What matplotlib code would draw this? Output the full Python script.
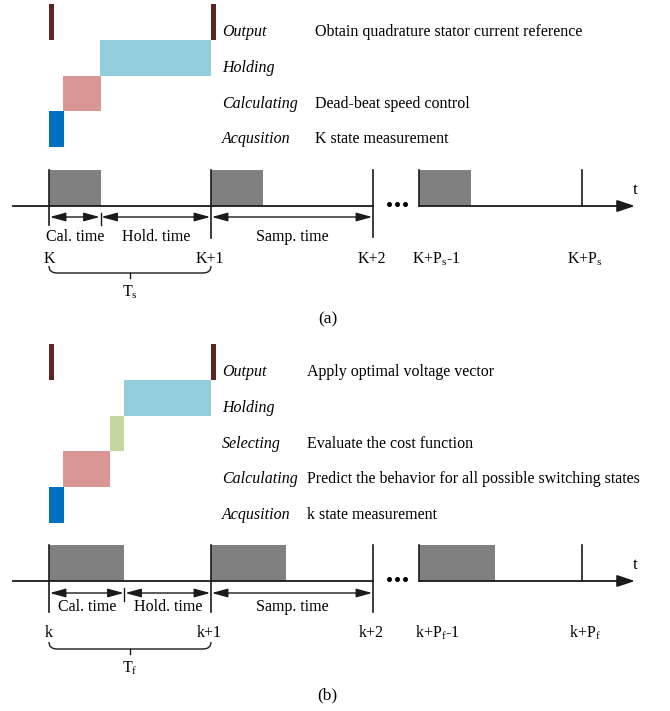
import numpy as np
import matplotlib.pyplot as plt
from matplotlib.path import Path
from matplotlib.patches import PathPatch

plt.rcParams['font.family'] = ['Liberation Serif', 'DejaVu Serif']
plt.rcParams['mathtext.fontset'] = 'custom'
plt.rcParams['mathtext.rm'] = 'Liberation Serif'
plt.rcParams['mathtext.it'] = 'Liberation Serif:italic'

# stage spans, in sampling periods (0 = sample k, 1 = sample k+1)
stages_a = ['Output', 'Holding', 'Calculating', 'Acqusition']
desc_a = ['Obtain quadrature stator current reference', '',
          'Dead-beat speed control', 'K state measurement']
spans_a = [[(0, 0.031), (1.0, 0.031)],
           [(0.315, 0.685)],
           [(0.086, 0.234)],
           [(0, 0.093)]]

stages_b = ['Output', 'Holding', 'Selecting', 'Calculating', 'Acqusition']
desc_b = ['Apply optimal voltage vector', '', 'Evaluate the cost function',
          'Predict the behavior for all possible switching states',
          'k state measurement']
spans_b = [[(0, 0.031), (1.0, 0.031)],
           [(0.463, 0.537)],
           [(0.377, 0.086)],
           [(0.086, 0.291)],
           [(0, 0.093)]]

stage_colors = {'Output': '#5f2522', 'Holding': '#92cddc', 'Selecting': '#c3d69b',
                'Calculating': '#d99694', 'Acqusition': '#0070c0'}

# timeline: sample instants (the axis is broken between k+2 and k+P-1)
slots = [0, 1, 2, 2.284, 3.29]
ticks_a = ['K', 'K+1', 'K+2', 'K+P$_\\mathrm{s}$-1', 'K+P$_\\mathrm{s}$']
ticks_b = ['k', 'k+1', 'k+2', 'k+P$_\\mathrm{f}$-1', 'k+P$_\\mathrm{f}$']
busy_slots = [0, 1, 2.284]
cal_a = 0.318
cal_b = 0.466

fig = plt.figure(figsize=(6.70, 7.11), dpi=100)
ax = fig.add_axes([0, 0, 1, 1])
ax.set_xlim(-49 / 162, 621 / 162)
ax.set_ylim(711, 0)
ax.axis('off')

FS = 11.5


def stage_block(stages, desc, spans, top, desc_x):
    h = 35.8
    for i, (name, d, sp) in enumerate(zip(stages, desc, spans)):
        y0 = top + i * h
        ax.broken_barh(sp, (y0, h), facecolors=stage_colors[name], lw=0)
        ax.text(1.068, y0 + h / 2 + 14, name, style='italic', fontsize=FS,
                ha='left', va='baseline')
        if d:
            ax.text(desc_x, y0 + h / 2 + 14, d, fontsize=FS, ha='left', va='baseline')


def timeline(y, cal, ticks, lab, per_lab, long_ticks, y_arrow, y_text, y_lab, y_brace):
    lc = '#1a1a1a'
    # axis line, broken
    ax.plot([-0.222, slots[2]], [y, y], color=lc, lw=1.3)
    ax.annotate('', xy=(3.617, y), xytext=(slots[3], y),
                arrowprops=dict(arrowstyle='-|>,head_length=0.9,head_width=0.3',
                                color=lc, lw=1.3, shrinkA=0, shrinkB=0,
                                mutation_scale=12))
    ax.text(3.617, y - 16, 't', fontsize=12.5, ha='center', va='center')
    ax.plot([2.1, 2.148, 2.196], [y - 2] * 3, 'o', color='black', ms=2.6)
    # busy boxes
    ax.broken_barh([(s, cal) for s in busy_slots], (y - 36, 36),
                   facecolors='#808080', lw=0)
    # vertical sample lines
    for s, bottom in zip(slots, long_ticks):
        ax.plot([s, s], [y - 36, bottom], color=lc, lw=1.2)
    ax.plot([cal, cal], [y + 7, y_arrow + 8], color=lc, lw=1.0)
    # interval arrows
    arr = dict(arrowstyle='<|-|>,head_length=0.8,head_width=0.22', color=lc,
               lw=1.0, shrinkA=0, shrinkB=0, mutation_scale=12)
    for a, b in [(0, cal), (cal, 1), (1, 2)]:
        ax.annotate('', xy=(a + 0.005, y_arrow), xytext=(b - 0.005, y_arrow),
                    arrowprops=arr)
    for a, b, t in [(0, cal, 'Cal. time'), (cal, 1, 'Hold. time'), (1, 2, 'Samp. time')]:
        ax.text((a + b) / 2, y_text, t, fontsize=FS, ha='center', va='center')
    # sample labels
    offs = [0, -0.01, -0.01, 0.11, 0.02]
    for s, t, o in zip(slots, ticks, offs):
        ax.text(s + o, y_lab, t, fontsize=FS, ha='center', va='center')
    # brace over one period
    c = 0.05
    verts = [(0, y_brace - 7), (0, y_brace), (c, y_brace),
             (1 - c, y_brace), (1, y_brace), (1, y_brace - 7)]
    codes = [Path.MOVETO, Path.CURVE3, Path.CURVE3,
             Path.LINETO, Path.CURVE3, Path.CURVE3]
    ax.add_patch(PathPatch(Path(verts, codes), fill=False, lw=1.0, ec=lc))
    ax.plot([0.5, 0.5], [y_brace, y_brace + 5], color=lc, lw=1.0)
    ax.text(0.5, y_brace + 19, per_lab, fontsize=FS, ha='center', va='center')
    ax.text(1.72, y_brace + 46, lab, fontsize=12.5, ha='center', va='center')


stage_block(stages_a, desc_a, spans_a, 4, 1.642)
stage_block(stages_b, desc_b, spans_b, 344, 1.593)

timeline(206, cal_a, ticks_a, '(a)', 'T$_\\mathrm{s}$', [225, 238, 237, 206, 206],
         217, 237, 259, 273)
timeline(581, cal_b, ticks_b, '(b)', 'T$_\\mathrm{f}$', [612, 612, 612, 581, 581],
         593, 607, 633, 649)

fig.savefig('out.png', dpi=100)
